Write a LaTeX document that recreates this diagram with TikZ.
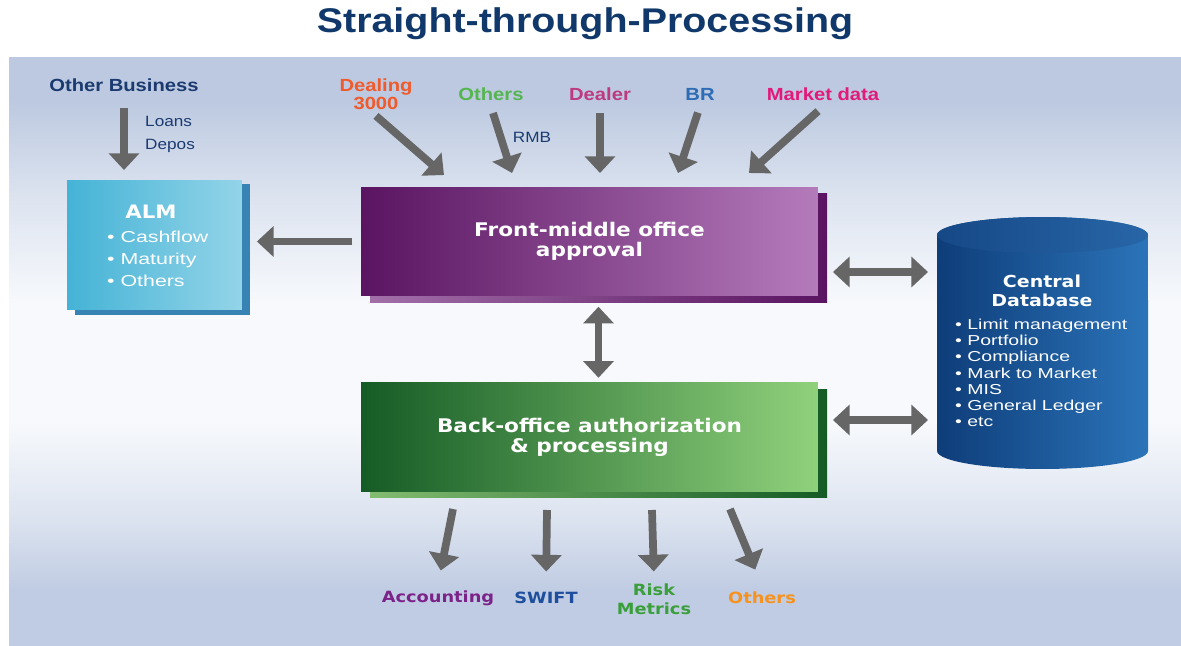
\documentclass[tikz,border=0pt]{standalone}
\usepackage{fontspec}
\setmainfont{Liberation Sans}[FakeStretch=1.15]
\newfontfamily\listfont{Liberation Sans}[FakeStretch=1.35]
\newfontfamily\boxfont{DejaVu Sans}[FakeStretch=1.15]
\usetikzlibrary{arrows.meta,calc}

\definecolor{titleblue}{HTML}{10386B}
\definecolor{textnavy}{HTML}{1B3A70}
\definecolor{arrowgray}{HTML}{666666}
\definecolor{paneltop}{HTML}{BCC9E0}
\definecolor{panelmid}{HTML}{DDE4F0}
\definecolor{panelwhite}{HTML}{F7F9FC}
\definecolor{panelbot}{HTML}{C0CCE3}
\definecolor{almdark}{HTML}{45B3D6}
\definecolor{almlight}{HTML}{93D4E8}
\definecolor{almshadow}{HTML}{3784B4}
\definecolor{fmodark}{HTML}{5A1461}
\definecolor{fmolight}{HTML}{B47BBB}
\definecolor{boadark}{HTML}{155B25}
\definecolor{boalight}{HTML}{90D17C}
\definecolor{dbdark}{HTML}{0E3D79}
\definecolor{dblight}{HTML}{2B74B9}
\definecolor{capdark}{HTML}{164886}
\definecolor{caplight}{HTML}{2866A8}
\definecolor{dealingc}{HTML}{F15A2B}
\definecolor{othersc}{HTML}{55B54F}
\definecolor{dealerc}{HTML}{BE3A80}
\definecolor{brc}{HTML}{2E6DB5}
\definecolor{marketc}{HTML}{E3197A}
\definecolor{accc}{HTML}{7C2389}
\definecolor{swiftc}{HTML}{1E4F9D}
\definecolor{riskc}{HTML}{3A9F3A}
\definecolor{otherbc}{HTML}{F7921E}

% light band in the middle of the panel, blue-grey at top and bottom
\pgfdeclareverticalshading{panelshade}{100bp}{color(0bp)=(panelbot); color(29.75bp)=(panelbot); color(36bp)=(panelmid); color(44bp)=(panelwhite); color(54bp)=(panelwhite); color(63bp)=(panelmid); color(71.3bp)=(paneltop); color(100bp)=(paneltop)}

\tikzset{
  flow/.style={draw=arrowgray, line width=4.4pt, -{Triangle[width=17pt,length=9.5pt]}},
  both/.style={flow, {Triangle[width=17pt,length=9.5pt]}-{Triangle[width=17pt,length=9.5pt]}},
  source/.style={font=\bfseries\fontsize{10}{10.5}\selectfont, align=center},
  note/.style={font=\fontsize{8.5}{10}\selectfont, text=textnavy},
  officebox/.style={minimum width=9.14cm, minimum height=2.17cm, outer sep=0pt, text=white, align=center,
    font=\boxfont\bfseries\fontsize{10.7}{11.5}\selectfont},
  sink/.style={font=\boxfont\bfseries\fontsize{8.8}{10.7}\selectfont, align=center},
}

\begin{document}
\begin{tikzpicture}[x=0.02cm,y=0.02cm]
    \useasboundingbox (0,0) rectangle (1181,-646);
    \shade[shading=panelshade] (9,-57) rectangle (1181,-646);

    \node[font=\bfseries\fontsize{19.5}{22}\selectfont, text=titleblue] (title) at (585,-24) {Straight-through-Processing};

    % drop shadows behind the boxes
    \fill[almshadow] (75,-184) rectangle (250,-315);
    \shade[left color=fmolight!90!black, right color=fmodark] (370,-193) rectangle (827,-302);
    \shade[left color=boalight!90!black, right color=boadark] (370,-389) rectangle (827,-497);

    % boxes
    \node[minimum width=3.5cm, minimum height=2.6cm, outer sep=0pt, left color=almdark, right color=almlight] (alm) at (154.5,-245) {};
    \node[font=\boxfont\bfseries\fontsize{10.5}{12}\selectfont, text=white] (almhead) at (151,-212) {ALM};
    \node[anchor=west, align=left, text=white, font=\listfont\fontsize{9}{12.5}\selectfont] (almlist) at (101,-259)
        {\textbullet\ Cashflow\\ \textbullet\ Maturity\\ \textbullet\ Others};

    \node[officebox, left color=fmodark, right color=fmolight] (fmo) at (589.5,-241.5) {Front-middle office\\approval};
    \node[officebox, left color=boadark, right color=boalight] (boa) at (589.5,-437) {Back-office authorization\\\& processing};

    % central database, a cylinder round db
    \node[minimum width=4.22cm, minimum height=5.04cm, outer sep=0pt] (db) at (1042.5,-343) {};
    \shade[left color=dbdark, right color=dblight] ($(db.north west)+(0,-18)$) -- ($(db.south west)+(0,18)$)
        arc[start angle=180, end angle=360, x radius=105.5, y radius=18] -- ($(db.north east)+(0,-18)$)
        arc[start angle=0, end angle=180, x radius=105.5, y radius=18] -- cycle;
    \shade[left color=capdark, right color=caplight] ($(db.north)+(0,-18)$) ellipse[x radius=105.5, y radius=18];
    \node[font=\boxfont\bfseries\fontsize{9.4}{10.8}\selectfont, text=white, align=center] (dbhead) at (1042,-290.5) {Central\\Database};
    \node[anchor=west, align=left, text=white, font=\listfont\fontsize{8.2}{9.25}\selectfont] (dblist) at (949,-373)
        {\textbullet\ Limit management\\ \textbullet\ Portfolio\\ \textbullet\ Compliance\\ \textbullet\ Mark to Market\\
         \textbullet\ MIS\\ \textbullet\ General Ledger\\ \textbullet\ etc};

    % inputs
    \node[source, text=textnavy] (other) at (124,-85) {Other Business};
    \node[note, anchor=west] (loans) at (139,-121) {Loans};
    \node[note, anchor=west] (depos) at (139,-146) {Depos};
    \node[source, text=dealingc] (dealing) at (376,-94) {Dealing\\3000};
    \node[source, text=othersc] (others) at (491,-94) {Others};
    \node[source, text=dealerc] (dealer) at (600,-94) {Dealer};
    \node[source, text=brc] (br) at (700,-94) {BR};
    \node[source, text=marketc] (market) at (823,-94) {Market data};
    \node[note] (rmb) at (532,-137) {RMB};

    % outputs
    \node[sink, text=accc] (acc) at (438,-598) {Accounting};
    \node[sink, text=swiftc] (swift) at (546,-598) {SWIFT};
    \node[sink, text=riskc] (risk) at (654,-599.5) {Risk\\Metrics};
    \node[sink, text=otherbc] (othb) at (762,-598) {Others};

    \coordinate (in1) at (444,-175);
    \coordinate (in2) at (512,-173);
    \coordinate (in3) at (600,-173);
    \coordinate (in4) at (678,-173);
    \coordinate (in5) at (749,-173);
    \coordinate (out1) at (453,-509);
    \coordinate (out2) at (547,-510);
    \coordinate (out3) at (652,-510);
    \coordinate (out4) at (730,-509);

    \draw[flow, shorten <=6pt, shorten >=5.7pt] (other.south) -- (other.south |- alm.north);
    \draw[flow] (dealing.south) -- (in1);
    \draw[flow, shorten <=3.8pt] (others.south) -- (in2);
    \draw[flow, shorten <=3.8pt] (dealer.south) -- (in3);
    \draw[flow, shorten <=3.8pt] (br.south) -- (in4);
    \draw[flow, shorten <=3.8pt] (market.south) -- (in5);

    \draw[flow, shorten <=5pt, shorten >=8.5pt] (fmo.west) -- (fmo.west -| alm.east);
    \draw[both] ($(fmo.south)+(9,-11)$) -- ($(boa.north)+(9,5)$);
    \draw[both] ($(fmo.east)+(15,-30.5)$) -- ($(db.west |- fmo.east)+(-9,-30.5)$);
    \draw[both] ($(boa.east)+(15,17)$) -- ($(db.west |- boa.east)+(-9,17)$);

    \draw[flow, shorten >=8pt] (out1) -- (acc.north);
    \draw[flow, shorten >=8.2pt] (out2) -- (swift.north);
    \draw[flow, shorten >=3.7pt] (out3) -- (risk.north);
    \draw[flow, shorten >=10pt] (out4) -- (othb.north);
\end{tikzpicture}
\end{document}
